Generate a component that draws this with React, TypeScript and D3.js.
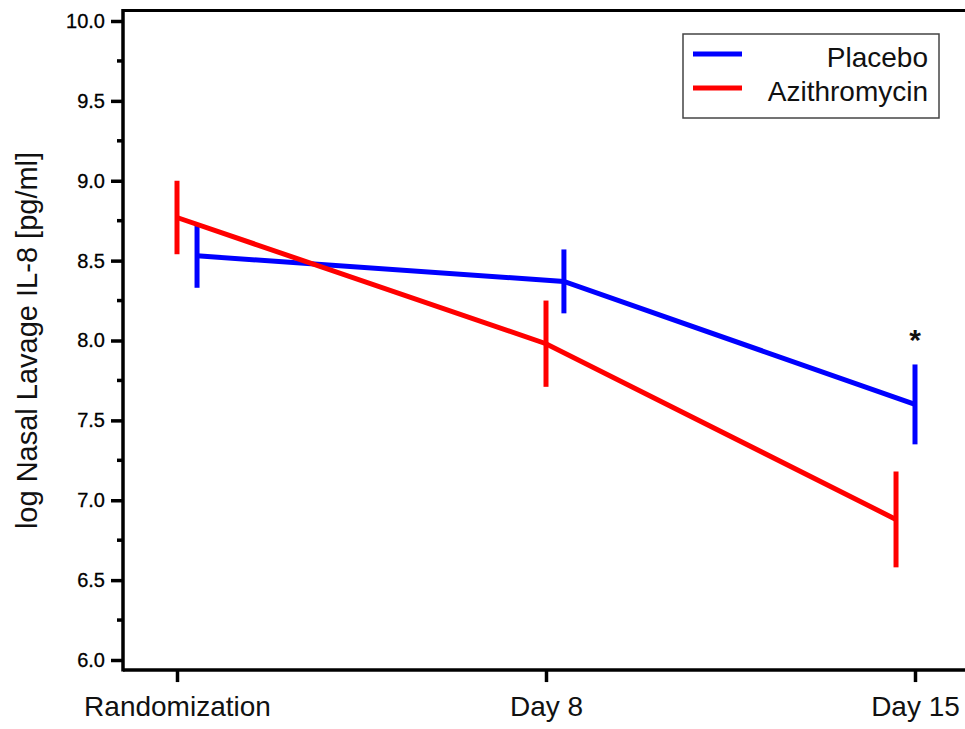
import React, { useEffect, useRef } from "react";
import * as d3 from "d3";

// time points (day of study) and their tick labels
const tickDays = [1, 8, 15];
const tickLabels = ["Randomization", "Day 8", "Day 15"];

// each group is drawn slightly offset so error bars don't overlap
const placeboDays = [1.38, 8.34, 15];
const placeboMean = [8.53, 8.37, 7.6];
const placeboErr = [0.2, 0.2, 0.25];

const azithroDays = [1, 8, 14.64];
const azithroMean = [8.77, 7.98, 6.88];
const azithroErr = [0.23, 0.27, 0.3];

const yTicks = [6.0, 6.5, 7.0, 7.5, 8.0, 8.5, 9.0, 9.5, 10.0];

const series = [
  { name: "Placebo", color: "#0000ff", days: placeboDays, mean: placeboMean, err: placeboErr },
  { name: "Azithromycin", color: "#ff0000", days: azithroDays, mean: azithroMean, err: azithroErr }
];

const width = 965,
  height = 729;

const font = "'Liberation Sans', Arial, sans-serif";

export default function App() {
  const svgRef = useRef<SVGSVGElement>(null);

  useEffect(() => {
    const svg = d3.select(svgRef.current);
    svg.selectAll("*").remove();

    const x = d3.scaleLinear().domain([1, 15]).range([177, 915]);
    const y = d3.scaleLinear().domain([6, 10]).range([660, 21]);

    const left = 123,
      right = 975,
      top = y(10.065),
      bottom = y(5.937);

    // top frame line
    svg
      .append("line")
      .attr("x1", left)
      .attr("x2", right)
      .attr("y1", top)
      .attr("y2", top)
      .attr("stroke", "#000")
      .attr("stroke-width", 3);

    const yAxis = d3
      .axisLeft(y)
      .tickValues(yTicks)
      .tickFormat(d3.format(".1f"))
      .tickSize(12)
      .tickPadding(6);

    const yG = svg
      .append("g")
      .attr("transform", `translate(${left},0)`)
      .call(yAxis);
    yG.select(".domain").remove();
    yG.selectAll(".tick line").attr("stroke-width", 3.5);
    yG.selectAll(".tick text")
      .attr("font-family", font)
      .attr("font-size", 20)
      .attr("fill", "#000")
      .attr("stroke", "#000")
      .attr("stroke-width", 0.3);

    // minor ticks
    const minor = d3.range(6.25, 10, 0.5);
    svg
      .append("g")
      .selectAll("line")
      .data(minor)
      .enter()
      .append("line")
      .attr("x1", left - 6)
      .attr("x2", left)
      .attr("y1", d => y(d))
      .attr("y2", d => y(d))
      .attr("stroke", "#000")
      .attr("stroke-width", 3.5);

    svg
      .append("line")
      .attr("x1", left)
      .attr("x2", left)
      .attr("y1", top - 1.5)
      .attr("y2", bottom + 1.5)
      .attr("stroke", "#000")
      .attr("stroke-width", 3.5);

    const xAxis = d3
      .axisBottom(x)
      .tickValues(tickDays)
      .tickFormat((d, i) => tickLabels[i])
      .tickSize(12)
      .tickPadding(14);

    const xG = svg
      .append("g")
      .attr("transform", `translate(0,${bottom})`)
      .call(xAxis);
    xG.select(".domain").remove();
    xG.selectAll(".tick line").attr("stroke-width", 3.5);
    xG.selectAll(".tick text")
      .attr("font-family", font)
      .attr("font-size", 28)
      .attr("fill", "#111");

    svg
      .append("line")
      .attr("x1", left)
      .attr("x2", right)
      .attr("y1", bottom)
      .attr("y2", bottom)
      .attr("stroke", "#000")
      .attr("stroke-width", 3.5);

    // y title
    svg
      .append("text")
      .attr("transform", `translate(37,${(y(6) + y(10)) / 2}) rotate(-90)`)
      .attr("text-anchor", "middle")
      .attr("font-family", font)
      .attr("font-size", 29)
      .attr("fill", "#111")
      .text("log Nasal Lavage IL-8 [pg/ml]");

    series.forEach(s => {
      const g = svg.append("g");
      const pts = s.mean.map((m, i) => [s.days[i], m] as [number, number]);
      g.append("path")
        .attr(
          "d",
          d3
            .line<[number, number]>()
            .x(d => x(d[0]))
            .y(d => y(d[1]))(pts)
        )
        .attr("fill", "none")
        .attr("stroke", s.color)
        .attr("stroke-width", 5);
      g.selectAll(".err")
        .data(pts)
        .enter()
        .append("line")
        .attr("x1", d => x(d[0]))
        .attr("x2", d => x(d[0]))
        .attr("y1", (d, i) => y(d[1] + s.err[i]))
        .attr("y2", (d, i) => y(d[1] - s.err[i]))
        .attr("stroke", s.color)
        .attr("stroke-width", 5);
    });

    // significance marker
    svg
      .append("text")
      .attr("x", x(placeboDays[2]))
      .attr("y", y(placeboMean[2] + placeboErr[2]) - 14)
      .attr("text-anchor", "middle")
      .attr("font-family", font)
      .attr("font-weight", "bold")
      .attr("font-size", 30)
      .attr("fill", "#111")
      .text("*");

    // legend
    const lg = svg.append("g").attr("transform", "translate(683,34)");
    lg.append("rect")
      .attr("width", 256)
      .attr("height", 84)
      .attr("fill", "#fff")
      .attr("stroke", "#444")
      .attr("stroke-width", 1.5);
    series.forEach((s, i) => {
      const yy = 20 + i * 34;
      lg.append("line")
        .attr("x1", 10)
        .attr("x2", 59)
        .attr("y1", yy)
        .attr("y2", yy)
        .attr("stroke", s.color)
        .attr("stroke-width", 5);
      lg.append("text")
        .attr("x", 245)
        .attr("y", yy + 13)
        .attr("text-anchor", "end")
        .attr("font-family", font)
        .attr("font-size", 28)
        .attr("fill", "#111")
        .text(s.name);
    });
  }, []);

  return (
    <svg
      ref={svgRef}
      width={width}
      height={height}
      style={{ position: "absolute", left: 0, top: 0, background: "#fff" }}
    />
  );
}
